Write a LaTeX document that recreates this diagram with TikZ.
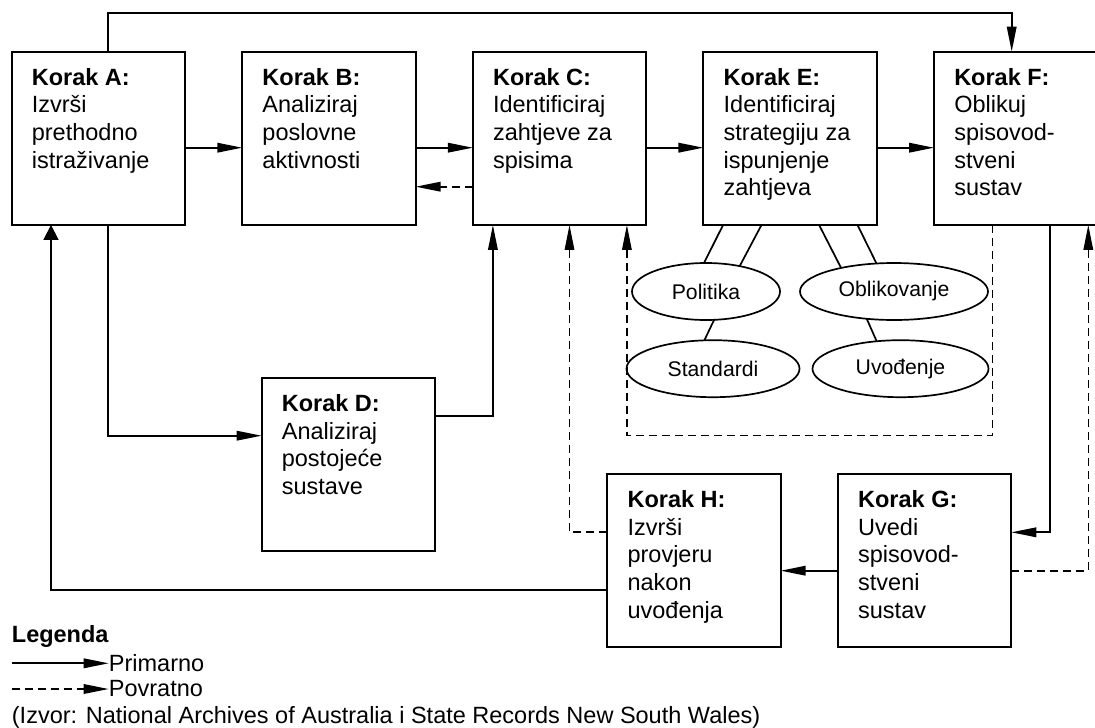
\documentclass[tikz,border=0pt]{standalone}
\usepackage{fontspec}
\setmainfont{Liberation Sans}
\usetikzlibrary{positioning,shapes.geometric,arrows.meta}

\begin{document}
\begin{tikzpicture}[x=1pt, y=-1pt,
    boxnode/.style={rectangle, draw=black, line width=2pt, minimum size=173.3pt, inner sep=0pt, outer sep=0pt},
    txtnode/.style={align=left, inner sep=0pt, font=\fontsize{23.5}{27.6}\selectfont},
    ellnode/.style={ellipse, draw=black, line width=1.7pt, minimum height=57pt, inner sep=0pt, outer sep=0pt, font=\fontsize{21.2}{25}\selectfont},
    legnode/.style={inner sep=0pt, font=\fontsize{23.5}{27.6}\selectfont},
    primarno/.style={line width=1.8pt, -{Triangle[length=25pt,width=9.5pt]}},
    povratno/.style={line width=1.6pt, dash pattern=on 8pt off 5pt, -{Triangle[length=25pt,width=9.5pt]}},
    sirokavrh/.style={line width=1.8pt, -{Triangle[length=15pt,width=15pt]}},
    node distance=57.3pt,
    ]
      \useasboundingbox (0,0) rectangle (1095,728);

      %Nodes
      \node[boxnode] (A) at (98.3,138.3) {};
      \node[boxnode] (B) [right=of A] {};
      \node[boxnode] (C) [right=of B] {};
      \node[boxnode] (E) [right=of C] {};
      \node[boxnode] (F) [right=of E] {};
      \node[boxnode] (D) at (348.3,464.7) {};
      \node[boxnode] (H) at (694,560.7) {};
      \node[boxnode] (G) [right=of H] {};

      %Texts
      \node[txtnode, below right=16.4pt and 20pt of A.north west] (At) {\textbf{Korak A:}\\Izvrši\\prethodno\\istraživanje};
      \node[txtnode, below right=16.4pt and 20pt of B.north west] (Bt) {\textbf{Korak B:}\\Analiziraj\\poslovne\\aktivnosti};
      \node[txtnode, below right=16.4pt and 20pt of C.north west] (Ct) {\textbf{Korak C:}\\Identificiraj\\zahtjeve za\\spisima};
      \node[txtnode, below right=16.4pt and 20pt of E.north west] (Et) {\textbf{Korak E:}\\Identificiraj\\strategiju za\\ispunjenje\\zahtjeva};
      \node[txtnode, below right=16.4pt and 20pt of F.north west] (Ft) {\textbf{Korak F:}\\Oblikuj\\spisovod-\\stveni\\sustav};
      \node[txtnode, below right=16.4pt and 20pt of D.north west] (Dt) {\textbf{Korak D:}\\Analiziraj\\postojeće\\sustave};
      \node[txtnode, below right=16.4pt and 20pt of H.north west] (Ht) {\textbf{Korak H:}\\Izvrši\\provjeru\\nakon\\uvođenja};
      \node[txtnode, below right=16.4pt and 20pt of G.north west] (Gt) {\textbf{Korak G:}\\Uvedi\\spisovod-\\stveni\\sustav};

      %Ellipses
      \node[ellnode, minimum width=148pt] (pol) at (706,291.5) {Politika};
      \node[ellnode, minimum width=188pt] (obl) at (894,291.5) {Oblikovanje};
      \node[ellnode, minimum width=173pt] (std) at (713,368.7) {Standardi};
      \node[ellnode, minimum width=176pt] (uvo) at (900.5,368.7) {Uvođenje};

      %Lines
      \draw[primarno] ([xshift=9.4pt]A.north) -- ++(0,-38.4) -| ([xshift=-9pt]F.north);
      \draw[primarno] ([yshift=-9.4pt]A.east) -- ([yshift=-9.4pt]B.west);
      \draw[primarno] ([yshift=-9.4pt]B.east) -- ([yshift=-9.4pt]C.west);
      \draw[primarno] ([yshift=-9.4pt]C.east) -- ([yshift=-9.4pt]E.west);
      \draw[primarno] ([yshift=-9.4pt]E.east) -- ([yshift=-9.4pt]F.west);
      \draw[povratno] ([yshift=-48.4pt]C.west) -- ([yshift=-48.4pt]B.east);

      \draw[primarno] ([xshift=9.4pt]A.south) |- ([yshift=29pt]D.west);
      \draw[primarno] ([yshift=48.4pt]D.east) -| ([xshift=-66.6pt]C.south);
      \draw[povratno] ([yshift=29pt]H.west) -| ([xshift=10pt]C.south);
      \draw[povratno] ([xshift=-28.4pt]F.south) -- ++(0,210.7) -| ([xshift=67.4pt]C.south);

      \draw[primarno] ([xshift=29.3pt]F.south) |- ([yshift=28.4pt]G.east);
      \draw[povratno] ([yshift=-10pt]G.east) -| ([xshift=67.6pt]F.south);
      \draw[primarno] ([yshift=-10pt]G.west) -- ([yshift=-10pt]H.east);
      \draw[sirokavrh] ([yshift=-29pt]H.west) -| ([xshift=-47.3pt]A.south);

      \draw[line width=1.7pt] ([xshift=-67pt]E.south) -- (pol.94);
      \draw[line width=1.7pt] ([xshift=-28.6pt]E.south) -- (pol.37);
      \draw[line width=1.7pt] ([xshift=29pt]E.south) -- (obl.156);
      \draw[line width=1.7pt] ([xshift=67.4pt]E.south) -- (obl.122);
      \draw[line width=1.7pt] (pol.286) -- (std.107);
      \draw[line width=1.7pt] (obl.225) -- (uvo.131);

      %Legend
      \node[legnode, anchor=base west, font=\fontsize{23.5}{27.6}\selectfont\bfseries] (leg) at (11.7,642.3) {Legenda};
      \coordinate (l1) at (11.7,663.3);
      \coordinate (l2) at (11.7,689);
      \node[legnode, right=97pt of l1] (prim) {Primarno};
      \node[legnode, right=97pt of l2] (povr) {Povratno};
      \draw[primarno] (l1) -- (prim.west);
      \draw[povratno] (l2) -- (povr.west);
      \node[legnode, anchor=base west] (izvor) at (11.7,723.5) {(Izvor: National Archives of Australia i State Records New South Wales)};
    \end{tikzpicture}
\end{document}
